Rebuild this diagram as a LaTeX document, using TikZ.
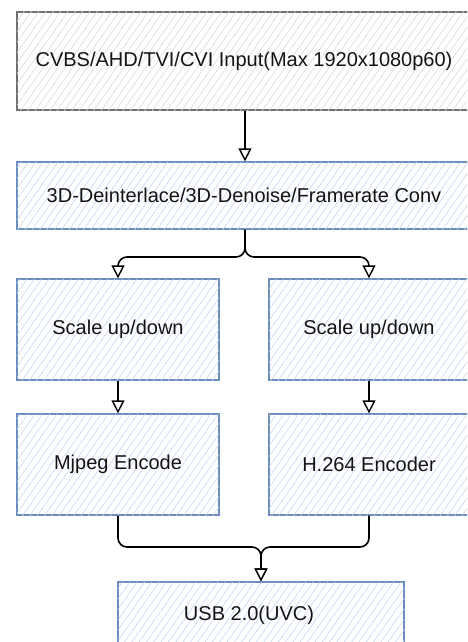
\documentclass[tikz,border=0pt]{standalone}
\usepackage{fontspec}
\setmainfont{Liberation Sans}
\usetikzlibrary{patterns.meta,arrows.meta}
\definecolor{bluebd}{HTML}{6C8EBF}
\definecolor{bluehatch}{HTML}{C5D5EE}
\definecolor{greybd}{HTML}{707070}
\definecolor{greyhatch}{HTML}{DADADA}
\definecolor{txt}{HTML}{141414}
\tikzset{
  bluebox/.style={draw=bluebd, line width=1.3pt, fill=white,
    postaction={pattern={Lines[angle=55,distance=6pt,line width=0.6pt]}, pattern color=bluehatch},
    text=txt, font=\fontsize{20}{24}\selectfont, inner sep=0pt, anchor=center},
  greybox/.style={draw=greybd, line width=1.3pt, fill=white,
    postaction={pattern={Lines[angle=55,distance=6pt,line width=0.6pt]}, pattern color=greyhatch},
    text=txt, font=\fontsize{20}{24}\selectfont, inner sep=0pt, anchor=center},
  conn/.style={draw=black, line width=1.6pt, rounded corners=9pt,
    -{Triangle[open,length=13pt,width=13pt,fill=white,line width=1.4pt]}},
}
\begin{document}
\begin{tikzpicture}[x=1pt,y=-1pt]
\useasboundingbox (0,0) rectangle (467,642);
\begin{scope}
\clip (0,0) rectangle (467,642);
\node[greybox, minimum width=454pt, minimum height=98pt] (inp) at (244,61) {CVBS/AHD/TVI/CVI Input(Max 1920x1080p60)};
\node[bluebox, minimum width=454pt, minimum height=67pt] (dei) at (244,195.5) {3D-Deinterlace/3D-Denoise/Framerate Conv};
\node[bluebox, minimum width=202pt, minimum height=101pt] (sl) at (118,329.5) {Scale up/down};
\node[bluebox, minimum width=200pt, minimum height=101pt] (sr) at (369,329.5) {Scale up/down};
\node[bluebox, minimum width=202pt, minimum height=101pt] (mj) at (118,464.5) {Mjpeg Encode};
\node[bluebox, minimum width=200pt, minimum height=101pt] (h264) at (369,464.5) {H.264 Encoder};
\node[bluebox, minimum width=286pt, minimum height=66pt] (usb) at (261,615) {\hspace*{-24pt}USB 2.0(UVC)};

\coordinate (j1) at (245,257);
\coordinate (j2) at (261,547);

\draw[conn] (inp.south -| j1) -- (dei.north -| j1);
\draw[conn] (dei.south -| j1) -- (j1) -| (sl.north);
\draw[conn] (dei.south -| j1) -- (j1) -| (sr.north);
\draw[conn] (sl.south) -- (mj.north);
\draw[conn] (sr.south) -- (h264.north);
\draw[conn] (mj.south) |- (j2) -- (usb.north);
\draw[conn] (h264.south) |- (j2) -- (usb.north);
\end{scope}
\end{tikzpicture}
\end{document}
